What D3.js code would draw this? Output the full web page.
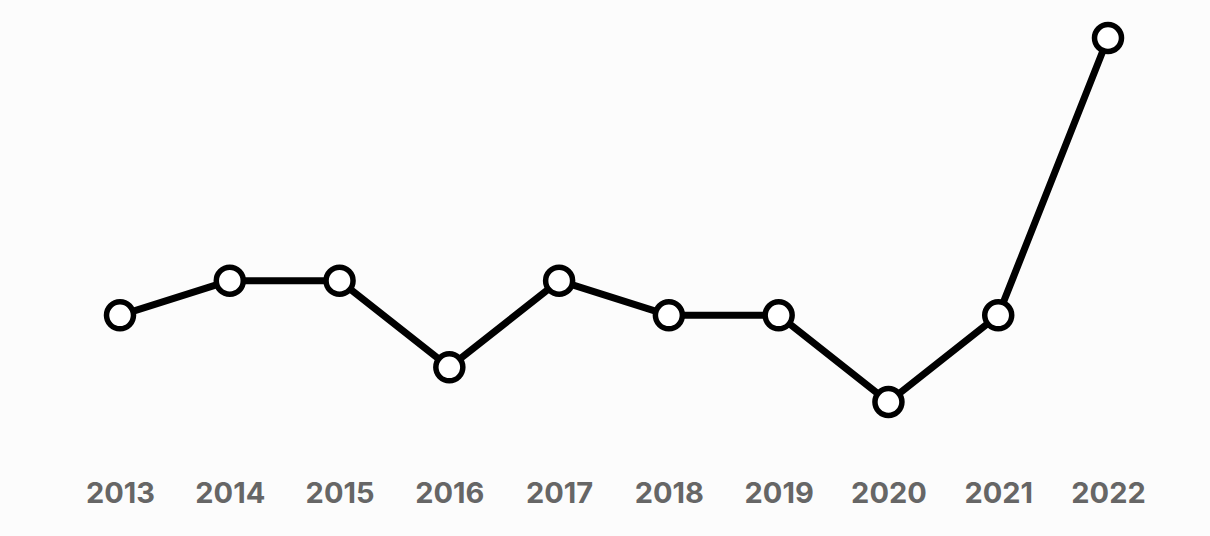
<!DOCTYPE html>
<html>
<head>
<meta charset="utf-8">
<script src="https://cdn.jsdelivr.net/npm/d3@7"></script>
<style>
    html, body { margin: 0; padding: 0; background: #fcfcfc; }
    svg { display: block; }
</style>
</head>
<body>
<svg id="chart"></svg>
<script>
const years = ["2013", "2014", "2015", "2016", "2017", "2018", "2019", "2020", "2021", "2022"];
const values = [8, 10, 10, 5, 10, 8, 8, 3, 8, 24];

const width = 1210;
const height = 536;

var svg = d3.select("#chart")
    .attr("width", width)
    .attr("height", height);

var x = d3.scalePoint()
    .domain(years)
    .range([120, 1108]);

var y = d3.scaleLinear()
    .domain([3, 24])
    .range([402, 38]);

// x axis labels only, no line or ticks
var xAxis = svg.append("g")
    .attr("transform", "translate(0,503)")
    .call(d3.axisBottom(x).tickSize(0).tickPadding(0));

xAxis.select(".domain").remove();
xAxis.selectAll("text")
    .attr("dy", "0")
    .style("font-family", "Inter, Roboto, sans-serif")
    .style("font-weight", "700")
    .style("font-size", "29px")
    .style("fill", "#666666");

var data = years.map(function (d, i) {
    return { year: d, value: values[i] };
});

var line = d3.line()
    .x(function (d) { return x(d.year); })
    .y(function (d) { return y(d.value); });

svg.append("path")
    .datum(data)
    .attr("d", line)
    .attr("fill", "none")
    .attr("stroke", "#000")
    .attr("stroke-width", 7)
    .attr("stroke-linejoin", "round");

svg.selectAll(".dot")
    .data(data)
    .enter().append("circle")
    .attr("class", "dot")
    .attr("cx", function (d) { return x(d.year); })
    .attr("cy", function (d) { return y(d.value); })
    .attr("r", 13.5)
    .attr("fill", "#fff")
    .attr("stroke", "#000")
    .attr("stroke-width", 5.5);
</script>
</body>
</html>
